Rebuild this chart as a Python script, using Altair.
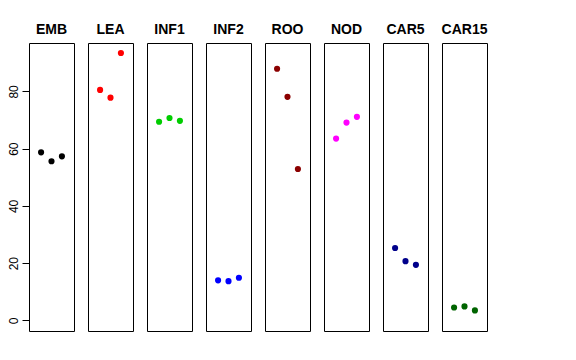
import altair as alt
import pandas as pd

groups = ["EMB", "LEA", "INF1", "INF2", "ROO", "NOD", "CAR5", "CAR15"]
colors = ["#000000", "#FF0000", "#00CD00", "#0000FF", "#8B0000", "#FF00FF", "#00008B", "#006400"]
rep = [1, 2, 3]
emb = [58.7, 55.6, 57.3]
lea = [80.5, 77.8, 93.4]
inf1 = [69.4, 70.7, 69.7]
inf2 = [14.0, 13.7, 14.9]
roo = [87.9, 78.1, 52.9]
nod = [63.5, 69.1, 71.1]
car5 = [25.3, 20.7, 19.4]
car15 = [4.5, 4.9, 3.5]
series = [emb, lea, inf1, inf2, roo, nod, car5, car15]
y_ticks = [0, 20, 40, 60, 80]

charts = []
for i, (g, vals) in enumerate(zip(groups, series)):
    df = pd.DataFrame({"rep": rep, "value": vals})
    if i == 0:
        yaxis = alt.Axis(values=y_ticks, domain=False, grid=False, ticks=True, tickSize=7,
                         tickColor="black", tickWidth=1, labelAngle=270, labelAlign="center",
                         labelBaseline="alphabetic", labelPadding=5, labelFontSize=12,
                         labelFont="Liberation Sans", labelColor="black", title=None)
    else:
        yaxis = None
    ch = alt.Chart(df).mark_circle(size=38, opacity=1, color=colors[i]).encode(
        x=alt.X("rep:Q", scale=alt.Scale(domain=[-0.16, 4.16], nice=False, zero=False), axis=None),
        y=alt.Y("value:Q", scale=alt.Scale(domain=[-3.7, 96.9], nice=False, zero=False), axis=yaxis),
    ).properties(
        width=45, height=288,
        title=alt.TitleParams(g, fontSize=14, fontWeight="bold", font="Liberation Sans",
                              color="black", offset=6, anchor="middle"),
    )
    charts.append(ch)

chart = alt.hconcat(*charts, spacing=12).configure_view(
    stroke="black", strokeWidth=1
).properties(padding={"left": -2, "top": 14, "right": 5, "bottom": 5})

chart.save("out.html", embed_options={"renderer": "svg", "actions": False})
